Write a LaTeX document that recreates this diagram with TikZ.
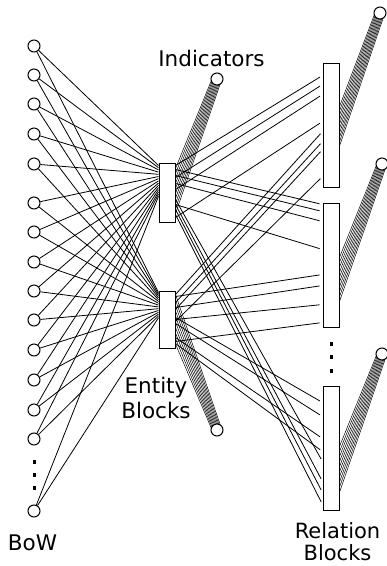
\documentclass[tikz,border=0pt]{standalone}
\usepackage{fontspec}
\setmainfont{DejaVu Sans}
\usetikzlibrary{calc}
\pgfdeclarelayer{bg}
\pgfsetlayers{bg,main}
\begin{document}
\begin{tikzpicture}[x=1pt,y=-1pt,
  conn/.style={line width=0.8pt,black},
  fan/.style={line width=0.5pt,black},
  neuron/.style={circle,draw,line width=1pt,fill=white,minimum size=12pt,inner sep=0pt},
  blk/.style={rectangle,draw,line width=1pt,fill=white,minimum width=16pt,inner sep=0pt},
  lbl/.style={inner sep=0pt,align=center},
  dotmark/.style={rectangle,fill=black,minimum width=3pt,minimum height=3.5pt,inner sep=0pt}]
\useasboundingbox (0,0) rectangle (387,566);

% BoW neurons
\foreach \yy [count=\i] in {46,75,104,134,164,203,232,262,291,320,350,380,410,439,511}
  \node[neuron] (b\i) at (34,\yy) {};
% entity blocks
\node[blk,minimum height=59pt] (e1) at (167,192.5) {};
\node[blk,minimum height=57pt] (e2) at (167,319.5) {};
% relation blocks
\node[blk,minimum height=124pt] (r1) at (331,125) {};
\node[blk,minimum height=124pt] (r2) at (331,265) {};
\node[blk,minimum height=124pt] (r3) at (331,448) {};
% indicators
\node[neuron] (i1) at (217,79) {};
\node[neuron] (i2) at (217,430) {};
\node[neuron] (j1) at (380,13) {};
\node[neuron] (j2) at (382,164) {};
\node[neuron] (j3) at (382,354) {};
% dots
\node[dotmark] (bd1) at (34,462) {};
\node[dotmark] (bd2) at (34,475) {};
\node[dotmark] (bd3) at (34,488) {};
\node[dotmark] (rd1) at (331.5,344) {};
\node[dotmark] (rd2) at (331.5,357) {};
\node[dotmark] (rd3) at (331.5,371) {};

\begin{pgfonlayer}{bg}
% BoW -> entity blocks
\foreach \i in {1,...,15} {
  \draw[conn] (b\i) -- ($(e1.north west)+(0,{3+2.2*(\i-1)})$);
  \draw[conn] (b\i) -- ($(e2.north west)+(0,{2+1.8*(\i-1)})$);
}
% fans to indicators
\foreach \k in {0,...,9} {
  \draw[fan] ($(e1.north east)+(0,{6+5*\k})$) -- ($(i1.center)+({-5+1.1*\k},0)$);
  \draw[fan] ($(e2.north east)+(0,{4+5.5*\k})$) -- ($(i2.center)+({5-1.1*\k},0)$);
  \draw[fan] ($(r1.north east)+(0,{44+4.4*\k})$) -- ($(j1.center)+({-5+1.1*\k},0)$);
  \draw[fan] ($(r2.north east)+(0,{55+4.9*\k})$) -- ($(j2.center)+({-5+1.1*\k},0)$);
  \draw[fan] ($(r3.north east)+(0,{61+5.1*\k})$) -- ($(j3.center)+({-5+1.1*\k},0)$);
}
% entity -> relation blocks
\foreach \s/\t in {3/13,15/22,27/32,55/59}
  \draw[conn,shorten >=3pt] ($(e1.north east)+(0,\s)$) -- ($(r1.north west)+(0,\t)$);
\foreach \s/\t in {4/69,12/79,19/87,31/114}
  \draw[conn,shorten >=3pt] ($(e2.north east)+(0,\s)$) -- ($(r1.north west)+(0,\t)$);
\foreach \s/\t in {7/2,13/9,21/19,42/47}
  \draw[conn,shorten >=3pt] ($(e1.north east)+(0,\s)$) -- ($(r2.north west)+(0,\t)$);
\foreach \s/\t in {6/72,17/83,29/102,51/120}
  \draw[conn,shorten >=3pt] ($(e2.north east)+(0,\s)$) -- ($(r2.north west)+(0,\t)$);
\foreach \s/\t in {37/76,42/96,47/107,52/119}
  \draw[conn,shorten >=3pt] ($(e1.north east)+(0,\s)$) -- ($(r3.north west)+(0,\t)$);
\foreach \s/\t in {27/17,33/31,47/53,53/66}
  \draw[conn,shorten >=3pt] ($(e2.north east)+(0,\s)$) -- ($(r3.north west)+(0,\t)$);
\end{pgfonlayer}

% labels
\node[lbl,anchor=base,font=\fontsize{21.5}{25}\selectfont] (tind) at (211.5,66) {Indicators};
\node[lbl,anchor=base,font=\fontsize{21.5}{25}\selectfont] (tbow) at (32.5,550) {BoW};
\node[lbl,anchor=north,font=\fontsize{21.5}{25.5}\selectfont] (tent) at (156,376.7) {Entity\\Blocks};
\node[lbl,anchor=north,font=\fontsize{21}{22}\selectfont] (trel) at (337.5,522.5) {Relation\\Blocks};
\end{tikzpicture}
\end{document}
